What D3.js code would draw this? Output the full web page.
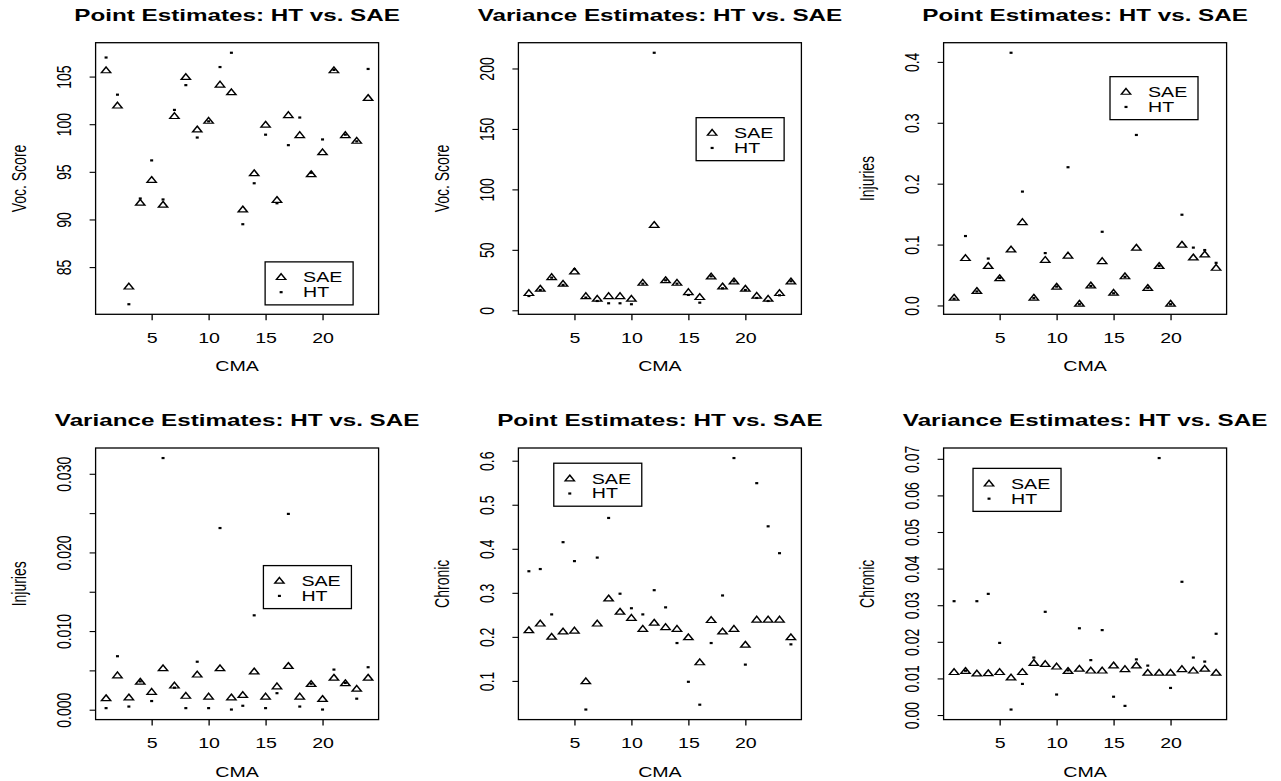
<!DOCTYPE html>
<html>
<head>
<meta charset="utf-8">
<script src="https://cdn.jsdelivr.net/npm/d3@7"></script>
<style>
  body { margin: 0; background: #fff; }
  svg { display: block; }
  text { font-family: "Liberation Sans", Arial, Helvetica, sans-serif; fill: #000; }
</style>
</head>
<body>
<div id="viz"></div>
<script>
// CMA index on the x axis
const cma = [1,2,3,4,5,6,7,8,9,10,11,12,13,14,15,16,17,18,19,20,21,22,23,24];

// Voc. Score
const vocPointSAE = [105.6,101.9,82.9,91.7,94.1,91.5,100.8,104.9,99.4,100.3,104.1,103.3,91.0,94.8,99.9,92.0,100.9,98.8,94.7,97.0,105.6,98.8,98.2,102.7];
const vocPointHT  = [107.0,103.1,81.1,92.2,96.2,92.1,101.5,104.1,98.6,100.3,106.0,107.5,89.5,93.8,98.9,91.7,97.8,100.7,94.9,98.4,105.7,98.9,98.2,105.8];
const vocVarSAE = [13.8,17.4,27.0,21.5,31.7,11.3,9.1,11.3,11.3,9.1,22.3,70.2,24.5,22.3,14.6,10.5,27.5,19.3,23.4,17.4,11.6,9.1,13.8,23.4];
const vocVarHT  = [11.8,16.8,27.0,21.0,34.0,10.5,7.7,5.8,5.8,5.0,22.0,213.0,24.8,22.0,12.7,6.3,28.1,18.2,24.0,16.8,10.2,7.7,12.4,24.0];

// Injuries
const injPointSAE = [0.012,0.077,0.023,0.064,0.044,0.091,0.136,0.012,0.074,0.030,0.081,0.002,0.032,0.072,0.020,0.047,0.094,0.028,0.064,0.002,0.099,0.078,0.083,0.061];
const injPointHT  = [0.011,0.114,0.023,0.077,0.045,0.415,0.187,0.012,0.086,0.031,0.227,0.002,0.032,0.121,0.020,0.047,0.280,0.029,0.065,0.002,0.149,0.095,0.091,0.070];
const injVarSAE = [0.0014,0.0043,0.0015,0.0035,0.0022,0.0052,0.0030,0.0017,0.0044,0.0016,0.0052,0.0015,0.0018,0.0048,0.0016,0.0029,0.0055,0.0016,0.0032,0.0013,0.0040,0.0033,0.0026,0.0040];
const injVarHT  = [0.0002,0.0068,0.0004,0.0036,0.0011,0.0320,0.0028,0.0002,0.0061,0.0002,0.0231,0.00002,0.0005,0.0120,0.0002,0.0021,0.0249,0.0004,0.0033,0.00002,0.0051,0.0034,0.0014,0.0054];

// Chronic
const chrPointSAE = [0.214,0.229,0.199,0.211,0.213,0.098,0.229,0.286,0.256,0.242,0.217,0.231,0.221,0.217,0.198,0.141,0.237,0.211,0.217,0.181,0.238,0.238,0.238,0.198];
const chrPointHT  = [0.349,0.354,0.251,0.415,0.372,0.035,0.380,0.470,0.298,0.265,0.251,0.306,0.267,0.186,0.098,0.046,0.186,0.294,0.606,0.137,0.549,0.451,0.390,0.183];
const chrVarSAE = [0.0116,0.0119,0.0112,0.0113,0.0116,0.0101,0.0116,0.0141,0.0138,0.0131,0.0119,0.0125,0.0120,0.0120,0.0134,0.0124,0.0134,0.0114,0.0114,0.0114,0.0124,0.0120,0.0125,0.0114];
const chrVarHT  = [0.0311,0.0121,0.0311,0.0331,0.0197,0.0015,0.0085,0.0157,0.0282,0.0056,0.0122,0.0237,0.0150,0.0232,0.0050,0.0025,0.0152,0.0135,0.0702,0.0074,0.0364,0.0157,0.0146,0.0222];

// titles, axis labels and ticks
const titles = ["Point Estimates: HT vs. SAE","Variance Estimates: HT vs. SAE","Point Estimates: HT vs. SAE",
                "Variance Estimates: HT vs. SAE","Point Estimates: HT vs. SAE","Variance Estimates: HT vs. SAE"];
const yTitles = ["Voc. Score","Voc. Score","Injuries","Injuries","Chronic","Chronic"];
const xTicks = [5,10,15,20];
const yTicks = [
  [85,90,95,100,105],
  [0,50,100,150,200],
  [0,0.1,0.2,0.3,0.4],
  [0,0.005,0.01,0.015,0.02,0.025,0.03],
  [0.1,0.2,0.3,0.4,0.5,0.6],
  [0,0.01,0.02,0.03,0.04,0.05,0.06,0.07]
];
const yTickLabels = [
  ["85","90","95","100","105"],
  ["0","50","100","150","200"],
  ["0.0","0.1","0.2","0.3","0.4"],
  ["0.000","","0.010","","0.020","","0.030"],
  ["0.1","0.2","0.3","0.4","0.5","0.6"],
  ["0.00","0.01","0.02","0.03","0.04","0.05","0.06","0.07"]
];
const saeSeries = [vocPointSAE, vocVarSAE, injPointSAE, injVarSAE, chrPointSAE, chrVarSAE];
const htSeries  = [vocPointHT, vocVarHT, injPointHT, injVarHT, chrPointHT, chrVarHT];
const legendNames = ["SAE","HT"];

// layout (the picture is stretched sideways, so text and marks are too)
let width = 1281, height = 781, sx = 1.4;
let colLeft = [95.6, 518.4, 943.6], rowTop = [42.7, 448],
    boxW = 283, boxH = 271.6;
// legend top-left as fraction of plot box
let legendPos = [[0.599,0.807],[0.628,0.276],[0.588,0.125],[0.593,0.433],[0.125,0.056],[0.104,0.075]];

let svg = d3.select('#viz').append('svg')
    .attr('width', width)
    .attr('height', height);
svg.append('rect').attr('width', width).attr('height', height).attr('fill', '#fff');

let tri = d3.symbol().type(d3.symbolTriangle).size(19)();

function pad(ext){
  let d = (ext[1]-ext[0])*0.04;
  return [ext[0]-d, ext[1]+d];
}

titles.forEach(function(title, i){
  let L = colLeft[i%3], T = rowTop[Math.floor(i/3)];
  let sae = saeSeries[i], ht = htSeries[i];

  let xScale = d3.scaleLinear()
      .domain(pad(d3.extent(cma)))
      .range([L, L+boxW]);
  let yScale = d3.scaleLinear()
      .domain(pad(d3.extent(sae.concat(ht))))
      .range([T+boxH, T]);

  let g = svg.append('g');

  // x axis
  let xg = g.append('g')
      .attr('transform', 'translate(0,' + (T+boxH) + ')')
      .call(d3.axisBottom(xScale).tickValues(xTicks).tickSize(6).tickSizeOuter(0));
  xg.select('.domain').remove();
  xg.selectAll('line').attr('stroke-width', 1.3);
  xg.selectAll('text')
      .attr('y', null).attr('dy', '0.35em')
      .attr('font-size', 14)
      .attr('transform', 'translate(0,23.5) scale(' + sx + ',1)');
  xg.attr('font-family', null);

  // y axis
  let labs = yTickLabels[i];
  let yg = g.append('g')
      .attr('transform', 'translate(' + L + ',0)')
      .call(d3.axisLeft(yScale).tickValues(yTicks[i]).tickSize(6).tickSizeOuter(0)
            .tickFormat(function(d, j){ return labs[j]; }));
  yg.select('.domain').remove();
  yg.selectAll('line').attr('stroke-width', 1.1);
  yg.selectAll('text')
      .attr('x', null).attr('dy', '0.35em')
      .attr('text-anchor', 'middle')
      .attr('font-size', 14)
      .attr('transform', 'translate(-31,0) scale(' + sx + ',1) rotate(-90)');
  yg.attr('font-family', null);

  // plot box
  g.append('rect')
      .attr('x', L).attr('y', T)
      .attr('width', boxW).attr('height', boxH)
      .attr('fill', 'none').attr('stroke', '#000').attr('stroke-width', 1.3);

  // titles
  g.append('text')
      .attr('transform', 'translate(' + (L+boxW/2) + ',' + (T-22) + ') scale(' + sx + ',1)')
      .attr('text-anchor', 'middle')
      .attr('font-size', 17.3).attr('font-weight', 'bold')
      .text(title);
  g.append('text')
      .attr('transform', 'translate(' + (L+boxW/2) + ',' + (T+boxH+52) + ') scale(' + sx + ',1)')
      .attr('text-anchor', 'middle').attr('dy', '0.35em')
      .attr('font-size', 14)
      .text('CMA');
  g.append('text')
      .attr('transform', 'translate(' + (L-76) + ',' + (T+boxH/2) + ') scale(' + sx + ',1) rotate(-90)')
      .attr('text-anchor', 'middle').attr('dy', '0.35em')
      .attr('font-size', 14)
      .text(yTitles[i]);

  // SAE triangles
  g.selectAll('path.sae').data(sae)
    .enter().append('path')
      .attr('class', 'sae')
      .attr('d', tri)
      .attr('fill', 'none').attr('stroke', '#000').attr('stroke-width', 1.2)
      .attr('transform', function(d, j){
        return 'translate(' + xScale(cma[j]) + ',' + yScale(d) + ') scale(' + sx + ',1)';
      });

  // HT dots
  g.selectAll('rect.ht').data(ht)
    .enter().append('rect')
      .attr('class', 'ht')
      .attr('x', function(d, j){ return xScale(cma[j]) - 1.5; })
      .attr('y', function(d){ return yScale(d) - 1.1; })
      .attr('width', 3).attr('height', 2.2)
      .attr('fill', '#000');

  // legend
  let lx = L + legendPos[i][0]*boxW, ly = T + legendPos[i][1]*boxH;
  let lg = g.append('g').attr('transform', 'translate(' + lx + ',' + ly + ')');
  lg.append('rect')
      .attr('width', 88).attr('height', 43)
      .attr('fill', '#fff').attr('stroke', '#000').attr('stroke-width', 1.3);
  lg.append('path')
      .attr('d', tri)
      .attr('fill', 'none').attr('stroke', '#000').attr('stroke-width', 1.2)
      .attr('transform', 'translate(16,15.7) scale(' + sx + ',1)');
  lg.append('rect')
      .attr('x', 14.5).attr('y', 29.2).attr('width', 3).attr('height', 2.2)
      .attr('fill', '#000');
  lg.selectAll('text').data(legendNames)
    .enter().append('text')
      .attr('transform', function(d, j){ return 'translate(38,' + (15.7 + j*14.6) + ') scale(' + sx + ',1)'; })
      .attr('dy', '0.35em')
      .attr('font-size', 14)
      .text(function(d){ return d; });
});
</script>
</body>
</html>
